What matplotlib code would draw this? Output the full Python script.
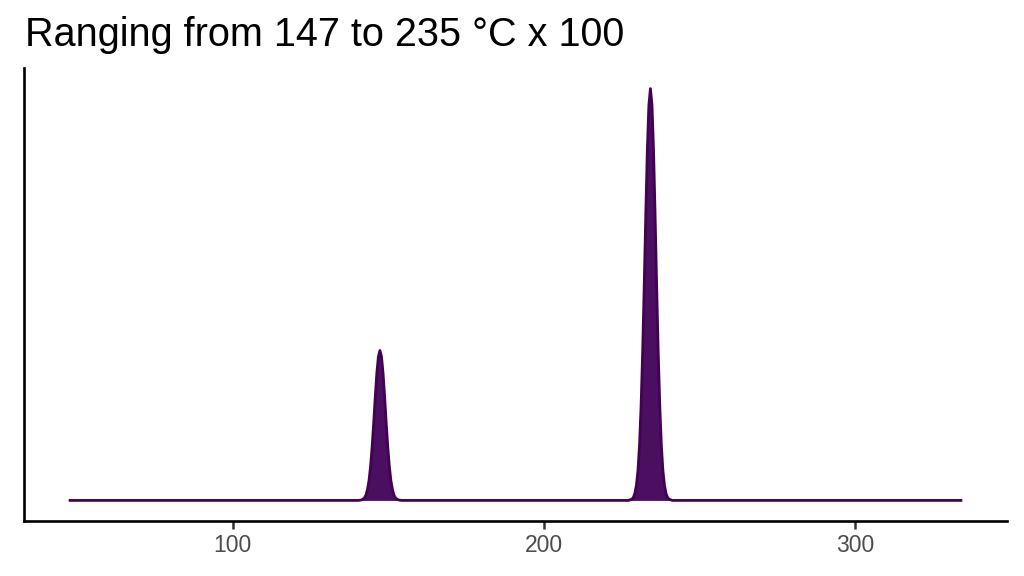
import numpy as np
import matplotlib
matplotlib.use("Agg")
import matplotlib.pyplot as plt

# Density curve (x in units, y relative density)
x_start, x_end = 47.3, 334.4
peak1_center = 147.3
peak2_center = 234.2
offsets = [-7, -6, -5.5, -5, -4.5, -4, -3.5, -3, -2.5, -2, -1.5, -1, -0.5, 0,
           0.5, 1, 1.5, 2, 2.5, 3, 3.5, 4, 4.5, 5, 5.5, 6, 7]
peak1_vals = [0.0, 0.001, 0.003, 0.006, 0.013, 0.027, 0.049, 0.084, 0.131, 0.189,
              0.252, 0.309, 0.349, 0.364,
              0.349, 0.309, 0.252, 0.189, 0.131, 0.084, 0.049, 0.027, 0.013,
              0.006, 0.003, 0.001, 0.0]
peak2_vals = [0.0, 0.003, 0.007, 0.017, 0.037, 0.073, 0.135, 0.230, 0.360,
              0.520, 0.693, 0.849, 0.960, 1.0,
              0.960, 0.849, 0.693, 0.520, 0.360, 0.230, 0.135, 0.073, 0.037,
              0.017, 0.007, 0.003, 0.0]
x_ticks = [100, 200, 300]
title = "Ranging from 147 to 235 °C x 100"

off = np.array(offsets)
xs = np.concatenate([[x_start], peak1_center + off, peak2_center + off, [x_end]])
ys = np.concatenate([[0.0], peak1_vals, peak2_vals, [0.0]])

plt.rcParams['font.family'] = ['Liberation Sans', 'DejaVu Sans']
fig = plt.figure(figsize=(10.24, 5.76), dpi=100)
ax = fig.add_axes([24/1024, 1 - 521/576, (1007-24)/1024, (521-68)/576])

ax.fill_between(xs, 0, ys, color='#4a0f60', linewidth=0)
ax.plot(xs, ys, color='#440154', linewidth=2.0, solid_capstyle='butt')

span = x_end - x_start
ax.set_xlim(x_start - 0.05*span, x_end + 0.05*span)
ax.set_ylim(-0.05, 1.05)
ax.set_xticks(x_ticks)
ax.set_xticklabels([str(t) for t in x_ticks])
ax.set_yticks([])
ax.tick_params(axis='x', colors='#333333', labelcolor='#4D4D4D', labelsize=16.5,
               length=6, width=1.8, pad=3)
for s in ['top', 'right']:
    ax.spines[s].set_visible(False)
for s in ['left', 'bottom']:
    ax.spines[s].set_linewidth(1.9)
    ax.spines[s].set_color('black')

fig.text(25/1024, 1 - 46/576, title, fontsize=28.5, color='black', ha='left', va='baseline')

fig.savefig('out.png', dpi=100)
